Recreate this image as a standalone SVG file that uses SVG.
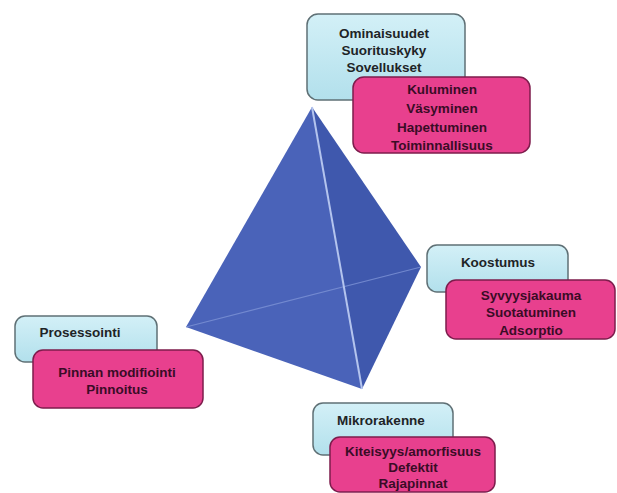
<svg xmlns="http://www.w3.org/2000/svg" width="617" height="493" viewBox="0 0 617 493">
  <defs>
    <linearGradient id="gBlue" x1="0" y1="0" x2="0" y2="1">
      <stop offset="0" stop-color="#d3f0f7"/>
      <stop offset="1" stop-color="#b2e0ec"/>
    </linearGradient>
    <style>
      .blue { fill: url(#gBlue); stroke: #5f7075; stroke-width: 1.5; }
      .pink { fill: #e8408e; stroke: #7d1c4c; stroke-width: 1.5; }
      text { font-family: "Liberation Sans", Arial, sans-serif; font-size: 13.5px; font-weight: bold; text-anchor: middle; }
      .tb { fill: #1e2426; }
      .tp { fill: #3a0c26; }
    </style>
  </defs>
  <rect width="617" height="493" fill="#ffffff"/>

  <g id="tetrahedron">
    <polygon points="312,107 186,327 362,389" fill="#4a63b9"/>
    <polygon points="312,107 362,389 421,267" fill="#3f58ad"/>
    <line x1="186" y1="327" x2="421" y2="267" stroke="#7d93d6" stroke-width="1.2" opacity="0.8"/>
    <line x1="312" y1="107" x2="362" y2="389" stroke="#b4c4ee" stroke-width="2"/>
  </g>

  <g id="node-ominaisuudet">
    <rect class="blue" x="307" y="14" width="158" height="86" rx="11"/>
    <text class="tb" x="384" y="38">Ominaisuudet</text>
    <text class="tb" x="384" y="55">Suorituskyky</text>
    <text class="tb" x="384" y="72">Sovellukset</text>
  </g>
  <g id="node-kuluminen">
    <rect class="pink" x="353" y="77" width="177" height="76" rx="11"/>
    <text class="tp" x="442" y="94">Kuluminen</text>
    <text class="tp" x="442" y="113">Väsyminen</text>
    <text class="tp" x="442" y="132">Hapettuminen</text>
    <text class="tp" x="442" y="150">Toiminnallisuus</text>
  </g>

  <g id="node-koostumus">
    <rect class="blue" x="427" y="245" width="141" height="47" rx="10"/>
    <text class="tb" x="498" y="267">Koostumus</text>
  </g>
  <g id="node-syvyysjakauma">
    <rect class="pink" x="446" y="280" width="169" height="59" rx="10"/>
    <text class="tp" x="531" y="300">Syvyysjakauma</text>
    <text class="tp" x="531" y="317">Suotatuminen</text>
    <text class="tp" x="531" y="335">Adsorptio</text>
  </g>

  <g id="node-prosessointi">
    <rect class="blue" x="15" y="316" width="142" height="46" rx="10"/>
    <text class="tb" x="80" y="337">Prosessointi</text>
  </g>
  <g id="node-pinnan">
    <rect class="pink" x="33" y="350" width="170" height="58" rx="10"/>
    <text class="tp" x="117" y="377">Pinnan modifiointi</text>
    <text class="tp" x="117" y="394">Pinnoitus</text>
  </g>

  <g id="node-mikrorakenne">
    <rect class="blue" x="313" y="403" width="140" height="52" rx="10"/>
    <text class="tb" x="381" y="425">Mikrorakenne</text>
  </g>
  <g id="node-kiteisyys">
    <rect class="pink" x="330" y="437" width="165" height="55" rx="10"/>
    <text class="tp" x="413" y="456">Kiteisyys/amorfisuus</text>
    <text class="tp" x="413" y="472">Defektit</text>
    <text class="tp" x="413" y="488">Rajapinnat</text>
  </g>

  <g id="connectors"></g>
</svg>
